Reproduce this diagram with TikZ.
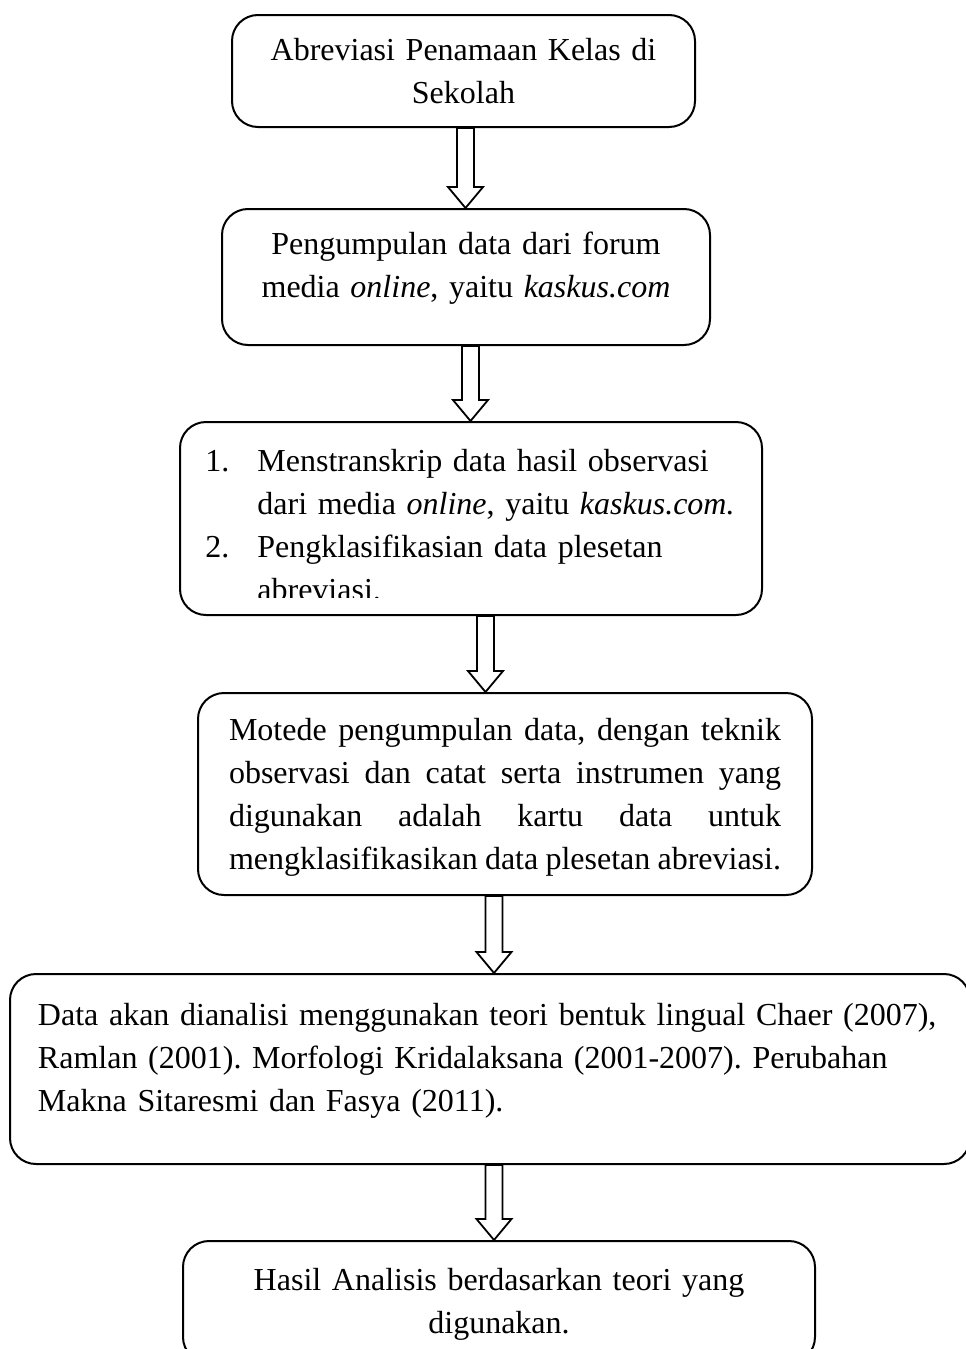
\documentclass[tikz,border=0pt]{standalone}
\usepackage{fontspec}
\setmainfont{Liberation Serif}
\usetikzlibrary{calc}

\tikzset{
	flowbox/.style={draw, line width=1pt, rounded corners=13pt, anchor=north, inner xsep=0pt, inner ysep=0pt, font=\fontsize{16pt}{21.5pt}\selectfont\frenchspacing},
	flowarrow/.style={draw, line width=0.9pt, line join=miter},
}

% hollow block arrow: #1 column, #2 upper box, #3 lower box
\newcommand{\blockarrow}[3]{%
	\draw[flowarrow] ($(#1 |- #2.south)+(-8.5,0)$) -- ($(#1 |- #3.north)+(-8.5,-21)$)
		-- ($(#1 |- #3.north)+(-17.5,-21)$) -- (#1 |- #3.north)
		-- ($(#1 |- #3.north)+(17.5,-21)$) -- ($(#1 |- #3.north)+(8.5,-21)$)
		-- ($(#1 |- #2.south)+(8.5,0)$) -- cycle;}

\begin{document}
\begin{tikzpicture}[x=0.5pt,y=-0.5pt]
		\useasboundingbox (0,0) rectangle (965,1349);

		\node[flowbox, minimum width=231.5pt, text width=222pt, align=center, text height=22.5pt, text depth=33.5pt] (abrev) at (463.5,14) {Abreviasi Penamaan Kelas di\\Sekolah};
		\node[flowbox, minimum width=244pt, text width=234pt, align=center, text height=22.5pt, text depth=45.5pt] (kumpul) at (466,208) {Pengumpulan data dari forum\\media \textit{online}, yaitu \textit{kaskus.com}};
		\node[flowbox, minimum width=291pt, text width=270pt, text height=25pt, text depth=71.5pt] (transkrip) at (471,421) {};
		\begin{scope}
			\clip (180,421) rectangle (762,597);
			\node[anchor=base west, inner sep=0pt, text width=275pt, align=left, font=\fontsize{16pt}{21.5pt}\selectfont\frenchspacing] (transkriptext) at (205,471)
				{\makebox[26pt][l]{1.}Menstranskrip data hasil observasi\\
				\hspace*{26pt}dari media \textit{online}, yaitu \textit{kaskus.com.}\\
				\makebox[26pt][l]{2.}Pengklasifikasian data plesetan\\
				\hspace*{26pt}abreviasi.};
		\end{scope}
		\node[flowbox, minimum width=307pt, text width=276pt, align=justify, text height=23.5pt, text depth=77.5pt] (metode) at (505,692) {Motede pengumpulan data, dengan teknik\linebreak observasi dan catat serta instrumen yang\linebreak digunakan adalah kartu data untuk\linebreak mengklasifikasikan data plesetan abreviasi.};
		\node[flowbox, minimum width=480pt, text width=452pt, align=left, text height=25.5pt, text depth=69.5pt] (analisis) at (490,973) {Data akan dianalisi menggunakan teori bentuk lingual Chaer (2007),\\Ramlan (2001). Morfologi Kridalaksana (2001-2007). Perubahan\\Makna Sitaresmi dan Fasya (2011).};
		\node[flowbox, minimum width=316pt, text width=300pt, align=center, text height=24.5pt, text depth=36.5pt] (hasil) at (499,1240) {Hasil Analisis berdasarkan teori yang\\digunakan.};

		\coordinate (c1) at (465.5,0);
		\coordinate (c2) at (470.5,0);
		\coordinate (c3) at (485.5,0);
		\coordinate (c4) at (494,0);
		\coordinate (c5) at (494,0);

		\blockarrow{c1}{abrev}{kumpul}
		\blockarrow{c2}{kumpul}{transkrip}
		\blockarrow{c3}{transkrip}{metode}
		\blockarrow{c4}{metode}{analisis}
		\blockarrow{c5}{analisis}{hasil}
\end{tikzpicture}
\end{document}
